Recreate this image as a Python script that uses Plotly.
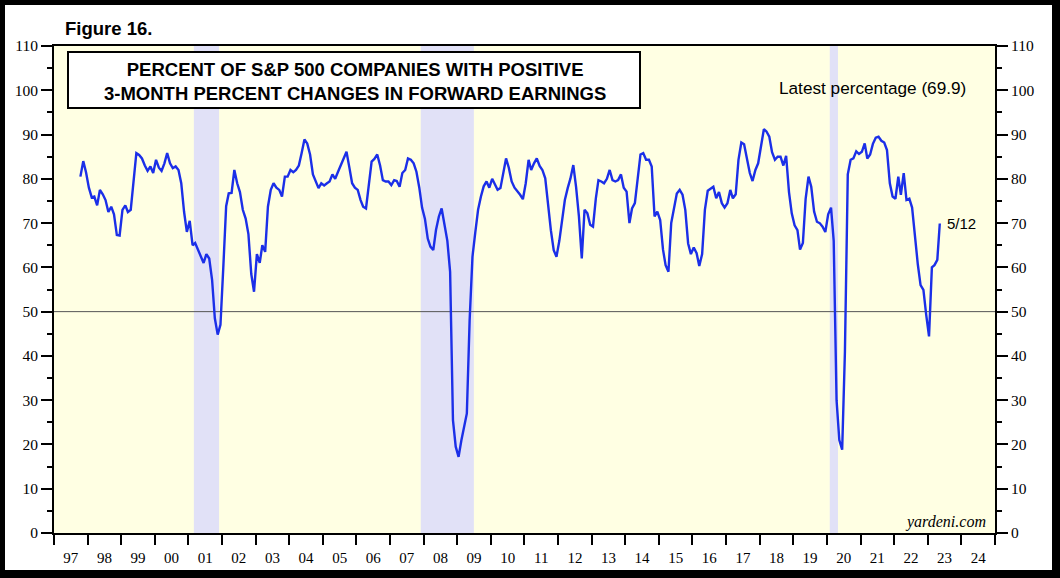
import plotly.graph_objects as go

# ---- data: monthly readings (percent), one list per year (Jan..Dec) ----
v1997 = [None] * 9 + [80.5, 84.0, 81.5]
v1998 = [78.0, 75.8, 76.0, 74.0, 77.5, 76.5, 75.2, 72.5, 73.7, 72.0, 67.3, 67.2]
v1999 = [73.0, 74.0, 72.5, 73.0, 80.0, 85.8, 85.4, 84.6, 83.0, 81.8, 82.8, 81.3]
v2000 = [84.3, 82.5, 81.8, 83.5, 85.8, 83.5, 82.4, 82.8, 82.0, 79.0, 72.5, 68.0]
v2001 = [70.5, 65.0, 65.5, 64.0, 62.4, 61.0, 63.0, 62.0, 57.2, 48.5, 44.8, 47.0]
v2002 = [60.0, 73.8, 76.7, 76.8, 82.0, 79.0, 77.0, 73.0, 71.0, 67.5, 58.5, 54.5]
v2003 = [63.0, 61.0, 65.0, 63.5, 73.7, 77.5, 79.0, 78.0, 77.5, 76.0, 80.5, 80.5]
v2004 = [82.0, 81.5, 82.0, 83.0, 85.8, 88.9, 88.0, 85.5, 81.0, 79.5, 77.9, 79.0]
v2005 = [78.5, 79.0, 79.4, 81.0, 80.0, 81.6, 83.0, 84.6, 86.1, 82.7, 79.0, 78.0]
v2006 = [77.5, 75.2, 73.7, 73.3, 79.0, 83.9, 84.5, 85.5, 83.0, 79.7, 79.4, 79.4]
v2007 = [78.6, 79.7, 79.5, 78.2, 81.3, 82.0, 84.6, 84.3, 83.5, 81.6, 78.0, 73.5]
v2008 = [71.0, 66.5, 64.7, 63.9, 68.5, 71.5, 73.3, 69.5, 66.0, 59.0, 25.5, 19.5]
v2009 = [17.2, 21.0, 24.0, 27.0, 48.0, 62.4, 67.8, 73.0, 76.0, 78.3, 79.4, 78.0]
v2010 = [80.0, 78.6, 77.5, 77.9, 81.6, 84.6, 82.5, 79.4, 78.0, 77.3, 76.4, 75.4]
v2011 = [79.0, 84.3, 82.0, 83.5, 84.6, 82.9, 82.0, 80.1, 73.7, 68.4, 63.9, 62.4]
v2012 = [66.0, 71.5, 75.2, 77.9, 80.1, 83.1, 78.2, 71.5, 62.0, 73.0, 72.2, 69.6]
v2013 = [69.2, 75.6, 79.7, 79.4, 79.0, 80.0, 82.0, 79.7, 79.4, 79.7, 81.0, 78.0]
v2014 = [77.1, 70.0, 73.3, 74.5, 80.5, 85.5, 85.8, 84.3, 84.3, 82.8, 71.5, 72.6]
v2015 = [70.7, 64.0, 60.5, 59.0, 70.0, 73.0, 76.7, 77.5, 76.4, 73.0, 65.4, 63.0]
v2016 = [64.5, 63.2, 60.3, 63.0, 73.0, 77.3, 77.8, 78.2, 75.6, 77.0, 74.5, 73.5]
v2017 = [74.5, 77.5, 75.6, 76.5, 84.3, 88.2, 87.8, 84.3, 81.3, 79.5, 82.0, 83.5]
v2018 = [87.5, 91.2, 90.7, 89.5, 86.0, 84.3, 85.0, 85.0, 83.0, 85.2, 77.0, 72.2]
v2019 = [69.5, 68.4, 64.0, 65.5, 75.5, 80.5, 78.2, 72.6, 70.3, 70.0, 69.2, 68.0]
v2020 = [72.0, 73.5, 66.0, 30.0, 21.0, 18.8, 41.0, 81.0, 84.3, 84.6, 86.2, 85.6]
v2021 = [86.1, 88.0, 84.6, 85.5, 87.9, 89.3, 89.5, 88.6, 88.2, 86.5, 79.0, 76.0]
v2022 = [75.5, 80.5, 76.4, 81.3, 75.2, 75.5, 73.5, 67.0, 60.7, 56.0, 54.9, 49.3]
v2023 = [44.4, 60.0, 60.5, 61.7, 69.9]

years = list(range(1997, 2024))
yearly = [v1997, v1998, v1999, v2000, v2001, v2002, v2003, v2004, v2005,
          v2006, v2007, v2008, v2009, v2010, v2011, v2012, v2013, v2014,
          v2015, v2016, v2017, v2018, v2019, v2020, v2021, v2022, v2023]

latest_date = "2023-05-12"
latest_value = 69.9

recessions = [("2001-03-01", "2001-11-30"),
              ("2007-12-01", "2009-06-30"),
              ("2020-02-01", "2020-04-30")]

dates, vals = [], []
for yr, arr in zip(years, yearly):
    for m, v in enumerate(arr, start=1):
        if v is None:
            continue
        d = latest_date if (yr == 2023 and m == 5) else f"{yr}-{m:02d}-15"
        dates.append(d)
        vals.append(v)

# ---- layout helpers (pixel -> paper) ----
L, R, T, B = 54, 995, 46, 533
W, H = 1060, 578


def px_x(X):
    return (X - L) / (R - L)


def px_y(Y):
    return (B - Y) / (B - T)


fig = go.Figure()
fig.add_trace(go.Scatter(x=dates, y=vals, mode="lines",
                         line=dict(color="#1B2FE8", width=2.4),
                         hoverinfo="skip", showlegend=False))
fig.add_trace(go.Scatter(x=dates, y=vals, mode="lines", yaxis="y2",
                         line=dict(color="rgba(0,0,0,0)", width=0),
                         hoverinfo="skip", showlegend=False))

shapes = []
shapes.append(dict(type="rect", xref="paper", yref="paper", x0=0, x1=1, y0=0, y1=1,
                   fillcolor="#FFFFE3", line=dict(width=0), layer="below"))
for a, b in recessions:
    shapes.append(dict(type="rect", xref="x", yref="paper", x0=a, x1=b, y0=0, y1=1,
                       fillcolor="#E1E1F7", line=dict(width=0), layer="below"))
shapes.append(dict(type="line", xref="paper", yref="y", x0=0, x1=1, y0=50, y1=50,
                   line=dict(color="#555555", width=1), layer="below"))
# title box
shapes.append(dict(type="rect", xref="paper", yref="paper",
                   x0=px_x(68), x1=px_x(640), y0=px_y(108), y1=px_y(52),
                   fillcolor="white", line=dict(color="black", width=2), layer="above"))
# outer black frame
frame = [(-20, 5, -20, 600), (1052, 1080, -20, 600), (-20, 1080, -20, 5), (-20, 1080, 570, 600)]
for x0, x1, y0, y1 in frame:
    shapes.append(dict(type="rect", xref="paper", yref="paper",
                       x0=px_x(x0), x1=px_x(x1), y0=px_y(y1), y1=px_y(y0),
                       fillcolor="black", line=dict(width=0), layer="above"))

sans = "Liberation Sans, Arial, sans-serif"
serif = "Liberation Serif, Times New Roman, serif"

annotations = [
    dict(text="<b>Figure 16.</b>", x=px_x(63), y=px_y(29), xref="paper", yref="paper",
         xanchor="left", yanchor="middle", showarrow=False,
         font=dict(family=sans, size=18.5, color="black")),
    dict(text="<b>PERCENT OF S&P 500 COMPANIES WITH POSITIVE<br>"
              "3-MONTH PERCENT CHANGES IN FORWARD EARNINGS</b>",
         x=px_x(355), y=px_y(81), xref="paper", yref="paper",
         xanchor="center", yanchor="middle", align="center", showarrow=False,
         font=dict(family=sans, size=18.5, color="black")),
    dict(text=f"Latest percentage ({latest_value})", x=px_x(872), y=px_y(88),
         xref="paper", yref="paper", xanchor="center", yanchor="middle", showarrow=False,
         font=dict(family=sans, size=17.2, color="black")),
    dict(text="5/12", x=latest_date, y=latest_value, xref="x", yref="y",
         xanchor="left", yanchor="middle", xshift=5, showarrow=False,
         font=dict(family=sans, size=15, color="black")),
    dict(text="<i>yardeni.com</i>", x=px_x(988), y=px_y(522), xref="paper", yref="paper",
         xanchor="right", yanchor="middle", showarrow=False,
         font=dict(family=serif, size=16, color="black")),
]

yax = dict(range=[0, 110], dtick=10, tick0=0, ticks="outside", ticklen=11, tickwidth=1.5,
           tickcolor="black", showline=True, linecolor="black", linewidth=2,
           showgrid=False, zeroline=False,
           minor=dict(ticks="outside", ticklen=5, dtick=5, tickwidth=1.5, tickcolor="black"),
           tickfont=dict(family=serif, size=15.5, color="black"), fixedrange=True)

fig.update_layout(
    width=W, height=H,
    margin=dict(l=L, r=W - R, t=T, b=H - B, pad=0),
    paper_bgcolor="white", plot_bgcolor="#FFFFE3",
    shapes=shapes, annotations=annotations, showlegend=False,
    xaxis=dict(type="date", range=["1997-01-01", "2025-01-01"], dtick="M12",
               tick0="1997-01-01", tickformat="%y", ticklabelmode="period",
               ticks="outside", ticklen=10, tickwidth=1.5, tickcolor="black",
               showline=True, linecolor="black", linewidth=2, mirror=True,
               showgrid=False, zeroline=False, fixedrange=True,
               tickfont=dict(family=serif, size=15, color="black")),
    yaxis=dict(side="left", mirror=False, **yax),
    yaxis2=dict(side="right", overlaying="y", **yax),
)

fig.write_html("out.html", config={"displayModeBar": False},
               post_script="document.body.style.margin='0';document.body.style.overflow='hidden';")
